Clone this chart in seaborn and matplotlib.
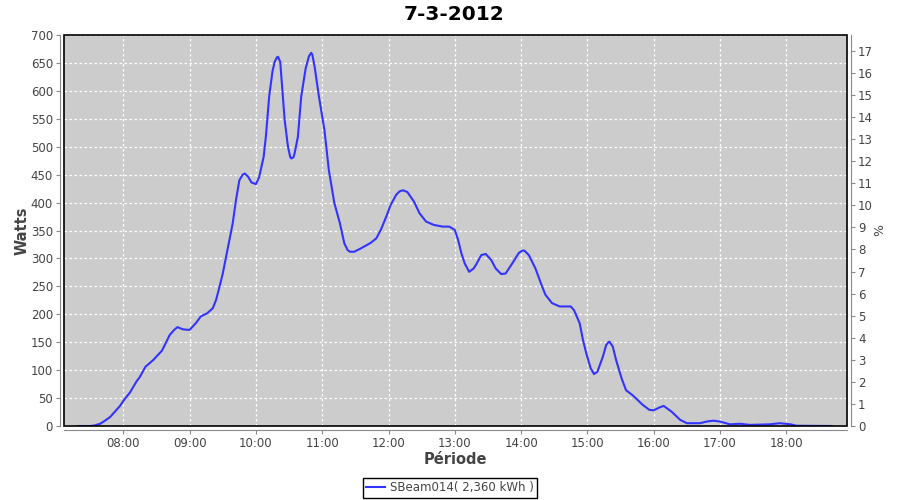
import pandas as pd
import numpy as np
import matplotlib.pyplot as plt
import seaborn as sns
from matplotlib.ticker import FixedLocator, FuncFormatter
from matplotlib.patches import Rectangle

# valeurs
times = ["07:19", "07:30", "07:34", "07:39", "07:43", "07:48", "07:52", "07:57",
         "08:00", "08:06", "08:12", "08:15", "08:20", "08:27", "08:35", "08:39",
         "08:42", "08:46", "08:49", "08:54", "09:00", "09:06", "09:10", "09:16",
         "09:21", "09:24", "09:27", "09:30", "09:33", "09:36", "09:39", "09:42",
         "09:45", "09:48", "09:50", "09:53", "09:56", "10:00", "10:03", "10:07",
         "10:09", "10:12", "10:15", "10:17", "10:19", "10:20", "10:22", "10:24",
         "10:26", "10:29", "10:31", "10:32", "10:34", "10:35", "10:38", "10:41",
         "10:45", "10:48", "10:50", "10:51", "10:53", "10:57", "11:02", "11:06",
         "11:11", "11:16", "11:20", "11:23", "11:25", "11:29", "11:35", "11:44",
         "11:49", "11:53", "11:58", "12:02", "12:07", "12:10", "12:13", "12:17",
         "12:23", "12:28", "12:34", "12:41", "12:49", "12:55", "13:00", "13:03",
         "13:06", "13:09", "13:13", "13:17", "13:19", "13:24", "13:28", "13:33",
         "13:37", "13:42", "13:46", "13:52", "13:58", "14:01", "14:03", "14:07",
         "14:13", "14:18", "14:22", "14:28", "14:35", "14:45", "14:48", "14:53",
         "14:56", "14:59", "15:03", "15:06", "15:09", "15:14", "15:17", "15:19",
         "15:20", "15:23", "15:26", "15:31", "15:35", "15:41", "15:50", "15:56",
         "16:00", "16:05", "16:09", "16:16", "16:24", "16:30", "16:42", "16:48",
         "16:54", "17:00", "17:09", "17:18", "17:27", "17:45", "17:54", "18:04",
         "18:09", "18:41"]
watts = [0, 0, 1, 4, 9, 16, 25, 36,
         45, 60, 80, 88, 106, 118, 135, 151,
         163, 172, 177, 173, 172, 185, 196, 202,
         211, 226, 249, 273, 303, 333, 363, 405,
         440, 450, 452, 446, 436, 433, 446, 482,
         518, 590, 635, 652, 660, 661, 652, 600,
         548, 500, 482, 479, 481, 488, 518, 590,
         640, 662, 668, 665, 645, 590, 530, 458,
         399, 363, 327, 315, 312, 312, 318, 328,
         336, 351, 375, 396, 414, 420, 422, 419,
         402, 381, 366, 360, 357, 357, 351, 333,
         309, 291, 276, 282, 288, 306, 308, 297,
         282, 272, 273, 291, 310, 314, 314, 306,
         282, 255, 235, 220, 214, 214, 207, 184,
         154, 130, 103, 93, 97, 124, 145, 150,
         151, 142, 118, 85, 64, 55, 38, 29,
         28, 33, 36, 26, 11, 5, 5, 8,
         9.5, 8, 3, 4, 2, 3, 5, 3,
         0.5, 0]
hour_ticks = list(range(8, 19))
watt_ticks = list(range(0, 701, 50))
pct_ticks = list(range(0, 18))
watts_per_pct = 39.5
title = "7-3-2012"
series_name = "SBeam014( 2,360 kWh )"


def to_hours(s):
    h, m = s.split(":")
    return int(h) + int(m) / 60


df = pd.DataFrame({"heure": [to_hours(t) for t in times], "Watts": watts})

txt = "#444444"
axc = "#888888"

fig = plt.figure(figsize=(9, 5), dpi=100)
ax = fig.add_axes([64 / 900, 74 / 500, 783 / 900, 391 / 500])
ax.set_facecolor("#cccccc")

sns.lineplot(data=df, x="heure", y="Watts", ax=ax, color="#3333ff", lw=1.5,
             legend=False)

ax.set_xlim(7.105, 18.916)
ax.set_ylim(0, 700)
ax.xaxis.set_major_locator(FixedLocator(hour_ticks))
ax.xaxis.set_major_formatter(FuncFormatter(lambda v, p: "%02d:00" % int(round(v))))
ax.yaxis.set_major_locator(FixedLocator(watt_ticks))
ax.grid(True, color="white", ls=(0, (2, 2)), lw=0.9)
ax.set_xlabel("")
ax.set_ylabel("")

for s in ["top", "right"]:
    ax.spines[s].set_visible(False)
for s in ["left", "bottom"]:
    ax.spines[s].set_position(("outward", 3))
    ax.spines[s].set_color(axc)
ax.tick_params(direction="out", length=3, color=axc, labelsize=8.5,
               labelcolor=txt, pad=2)

ax.add_patch(Rectangle((0, 0), 1, 1, transform=ax.transAxes, fill=False,
                       ec="black", lw=1.2, clip_on=False, zorder=5))

ax2 = ax.twinx()
ax2.set_ylim(0, 700 / watts_per_pct)
ax2.yaxis.set_major_locator(FixedLocator(pct_ticks))
for s in ["top", "left", "bottom"]:
    ax2.spines[s].set_visible(False)
ax2.spines["right"].set_position(("outward", 3))
ax2.spines["right"].set_color(axc)
ax2.tick_params(direction="out", length=3, color=axc, labelsize=8.5,
                labelcolor=txt, pad=2)

fig.text(0.504, 0.972, title, ha="center", va="center", fontsize=14.5,
         fontweight="bold", color="black")
fig.text(0.506, 0.08, "Période", ha="center", va="center", fontsize=10.5,
         fontweight="bold", color=txt)
fig.text(0.024, 0.539, "Watts", ha="center", va="center", rotation=90,
         fontsize=10.5, fontweight="bold", color=txt)
fig.text(0.978, 0.539, "%", ha="center", va="center", rotation=90,
         fontsize=9, color=txt)

line = ax.get_lines()[0]
leg = fig.legend([line], [series_name], loc="center",
                 bbox_to_anchor=(0.5, 0.024), fontsize=8.5, fancybox=False,
                 edgecolor="black", handlelength=1.6, borderpad=0.3,
                 handletextpad=0.4, framealpha=1)
leg.get_frame().set_linewidth(1.0)
for t in leg.get_texts():
    t.set_color(txt)

fig.savefig("out.png", dpi=100)
